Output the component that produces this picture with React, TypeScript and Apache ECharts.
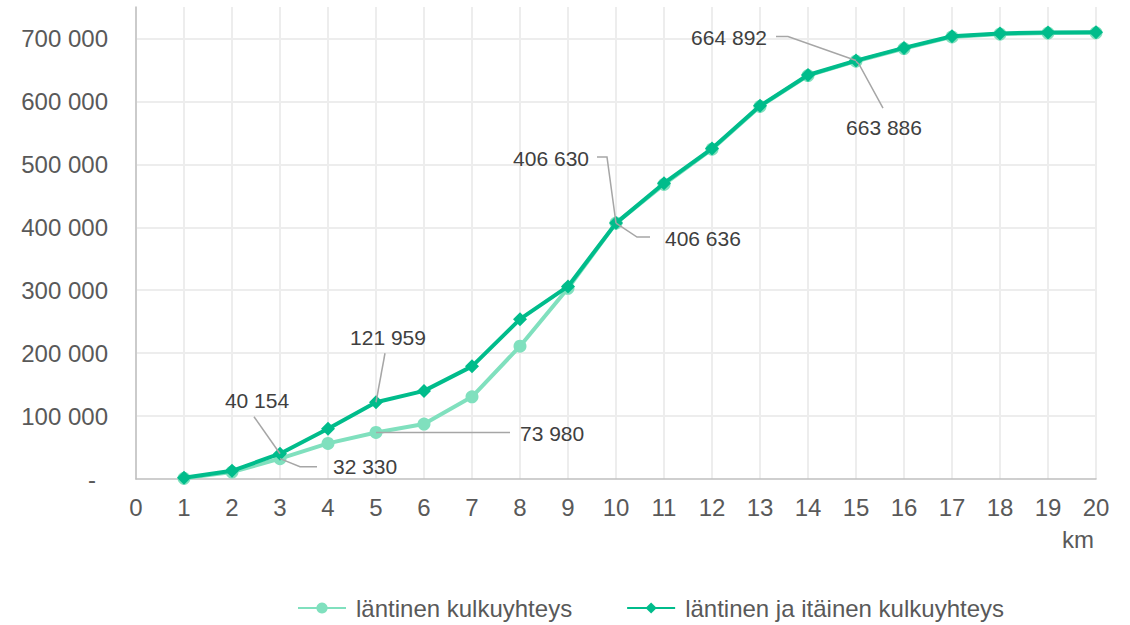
import React, { useEffect, useRef } from "react";
import * as echarts from "echarts";

const kmValues = [1, 2, 3, 4, 5, 6, 7, 8, 9, 10, 11, 12, 13, 14, 15, 16, 17, 18, 19, 20];
const westValues = [1000, 11000, 32330, 56600, 73980, 87300, 130600, 211000, 303000, 406636, 468000, 524000, 592000, 641000, 663886, 684000, 702500, 707000, 708500, 709000];
const westEastValues = [2000, 13000, 40154, 80000, 121959, 140000, 179000, 254000, 306000, 406630, 470000, 525000, 593000, 642000, 664892, 685000, 703500, 708000, 709500, 710000];
const seriesNames = ["läntinen kulkuyhteys", "läntinen ja itäinen kulkuyhteys"];
const yTicks = [0, 100000, 200000, 300000, 400000, 500000, 600000, 700000];

// annotated points: [km, series index (0 = west, 1 = west+east)]
const annotatedPoints: [number, number][] = [
  [3, 1], [3, 0], [5, 1], [5, 0], [10, 1], [10, 0], [15, 1], [15, 0],
];

// leader-line layout (pixel offsets from the point) and text placement
const annoLayout = [
  { line: [[0, 0], [-26, -37]], text: [-23, -53], align: "center" },
  { line: [[0, 0], [20, 8], [37, 8]], text: [53, 8], align: "left" },
  { line: [[0, 0], [9, -49]], text: [12, -65], align: "center" },
  { line: [[0, 0], [134, 0]], text: [144, 1], align: "left" },
  { line: [[0, 0], [-9, -66], [-19, -66]], text: [-27, -65], align: "right" },
  { line: [[0, 0], [21, 14], [34, 14]], text: [49, 15], align: "left" },
  { line: [[0, 0], [-68, -24], [-80, -24]], text: [-89, -23], align: "right" },
  { line: [[0, 0], [3, 3], [27, 47]], text: [28, 66], align: "center" },
];

const fmt = (v: number) => String(Math.round(v)).replace(/\B(?=(\d{3})+(?!\d))/g, " ");

const LIGHT = "#80e0be";
const DARK = "#00bc8b";
const GRID = "#ededed";

export default function App() {
  const ref = useRef<HTMLDivElement>(null);
  useEffect(() => {
    if (!ref.current) return;
    const chart = echarts.init(ref.current, undefined, { renderer: "svg" });
    const all = [westValues, westEastValues];
    const annoData = annotatedPoints.map(([km, s]) => [km, all[s][kmValues.indexOf(km)], s]);

    chart.setOption({
      animation: false,
      backgroundColor: "#ffffff",
      textStyle: { fontFamily: "Liberation Sans, Arial, sans-serif" },
      grid: { left: 136, right: 34, top: 7, bottom: 146 },
      legend: {
        bottom: 0,
        left: 292,
        itemWidth: 48,
        itemHeight: 14,
        itemGap: 54,
        textStyle: { fontSize: 24, color: "#595959", padding: [0, 0, 0, 5], fontFamily: "Liberation Sans, Arial, sans-serif" },
        data: seriesNames,
      },
      xAxis: {
        type: "value",
        min: 0,
        max: 20,
        interval: 1,
        axisLine: { show: true, lineStyle: { color: "#bfbfbf", width: 1.5 } },
        axisTick: { show: false },
        axisLabel: { fontSize: 24, color: "#595959", margin: 16 },
        splitLine: { show: true, lineStyle: { color: GRID, width: 2 } },
      },
      yAxis: {
        type: "value",
        min: 0,
        max: 750000,
        interval: 100000,
        axisLine: { show: true, lineStyle: { color: "#bfbfbf", width: 1.5 } },
        axisTick: { show: false },
        axisLabel: {
          fontSize: 24,
          color: "#595959",
          margin: 28,
          showMaxLabel: false,
          formatter: (v: number) => (v === 0 ? "{d|-}" : fmt(v)),
          rich: { d: { fontSize: 24, color: "#595959", padding: [0, 12, 0, 0] } },
        },
        splitLine: { show: false },
      },
      graphic: [
        {
          type: "text",
          right: 36,
          top: 527,
          style: { text: "km", fontSize: 24, fill: "#595959", fontFamily: "Liberation Sans, Arial, sans-serif" },
        },
      ],
      series: [
        {
          // horizontal gridlines at the y ticks (top extent line omitted)
          type: "line",
          data: [],
          silent: true,
          z: 0,
          markLine: {
            silent: true,
            z: 0,
            symbol: "none",
            label: { show: false },
            lineStyle: { color: GRID, width: 2, type: "solid" },
            data: yTicks.slice(1).map((v) => ({ yAxis: v })),
          },
        },
        {
          name: seriesNames[0],
          type: "line",
          data: kmValues.map((k, i) => [k, westValues[i]]),
          symbol: "circle",
          symbolSize: 13,
          lineStyle: { color: LIGHT, width: 4 },
          itemStyle: { color: LIGHT },
          z: 2,
        },
        {
          name: seriesNames[1],
          type: "line",
          data: kmValues.map((k, i) => [k, westEastValues[i]]),
          symbol: "diamond",
          symbolSize: 14,
          lineStyle: { color: DARK, width: 4 },
          itemStyle: { color: DARK },
          z: 3,
        },
        {
          type: "custom",
          data: annoData,
          z: 5,
          silent: true,
          renderItem: (params: any, api: any) => {
            const p = api.coord([api.value(0), api.value(1)]);
            const lay = annoLayout[params.dataIndex];
            return {
              type: "group",
              children: [
                {
                  type: "polyline",
                  shape: { points: lay.line.map((o) => [p[0] + o[0], p[1] + o[1]]) },
                  style: { stroke: "#a6a6a6", lineWidth: 1.5, fill: null },
                },
                {
                  type: "text",
                  x: p[0] + lay.text[0],
                  y: p[1] + lay.text[1],
                  style: {
                    text: fmt(api.value(1)),
                    fontSize: 21,
                    fill: "#404040",
                    align: lay.align,
                    verticalAlign: "middle",
                    fontFamily: "Liberation Sans, Arial, sans-serif",
                  },
                },
              ],
            };
          },
        },
      ],
    });
    return () => chart.dispose();
  }, []);
  return <div ref={ref} style={{ position: "absolute", left: 0, top: 0, width: 1130, height: 625 }} />;
}
